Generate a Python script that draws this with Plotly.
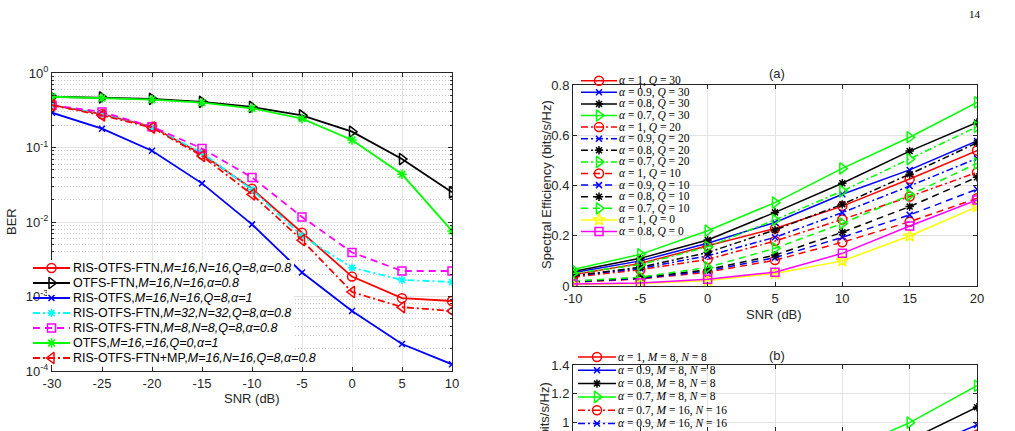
import plotly.graph_objects as go

W, H = 1015, 431

# ---------------- Left chart data (BER) ----------------
snr_ber = [-30, -25, -20, -15, -10, -5, 0, 5, 10]
snr_ber_labels = ["-30", "-25", "-20", "-15", "-10", "-5", "0", "5", "10"]
ber_ris_ftn_16 = [0.37, 0.28, 0.19, 0.081, 0.028, 0.0072, 0.00185, 0.00095, 0.00087]
ber_otfs_ftn = [0.48, 0.47, 0.45, 0.41, 0.35, 0.27, 0.163, 0.070, 0.025]
ber_ris_otfs = [0.293, 0.179, 0.0906, 0.033, 0.0093, 0.0021, 0.00064, 0.00023, 0.000123]
ber_ris_ftn_32 = [0.37, 0.28, 0.185, 0.085, 0.027, 0.0065, 0.00244, 0.00167, 0.00157]
ber_ris_ftn_8 = [0.37, 0.30, 0.19, 0.097, 0.0397, 0.0117, 0.0039, 0.0022, 0.0022]
ber_otfs = [0.48, 0.46, 0.44, 0.40, 0.336, 0.244, 0.126, 0.0437, 0.0076]
ber_ris_ftn_mp = [0.37, 0.27, 0.185, 0.077, 0.0235, 0.0057, 0.00115, 0.00072, 0.00064]
ber_names = [
    "RIS-OTFS-FTN,<i>M=16,N=16,Q=8,α=0.8</i>",
    "OTFS-FTN,<i>M=16,N=16,α=0.8</i>",
    "RIS-OTFS,<i>M=16,N=16,Q=8,α=1</i>",
    "RIS-OTFS-FTN,<i>M=32,N=32,Q=8,α=0.8</i>",
    "RIS-OTFS-FTN,<i>M=8,N=8,Q=8,α=0.8</i>",
    "OTFS,<i>M=16,=16,Q=0,α=1</i>",
    "RIS-OTFS-FTN+MP,<i>M=16,N=16,Q=8,α=0.8</i>",
]
ber_tick_vals = [1e-4, 1e-3, 1e-2, 1e-1, 1]
ber_tick_text = ["10<sup>-4</sup>", "10<sup>-3</sup>", "10<sup>-2</sup>", "10<sup>-1</sup>", "10<sup>0</sup>"]

# ---------------- Right chart (a) data ----------------
snr_se = [-10, -5, 0, 5, 10, 15, 20]
snr_se_labels = ["-10", "-5", "0", "5", "10", "15", "20"]
se_a1_q30 = [0.045, 0.09, 0.16, 0.229, 0.318, 0.426, 0.539]
se_a09_q30 = [0.053, 0.10, 0.17, 0.253, 0.365, 0.462, 0.577]
se_a08_q30 = [0.058, 0.11, 0.183, 0.293, 0.409, 0.537, 0.651]
se_a07_q30 = [0.066, 0.126, 0.22, 0.332, 0.468, 0.592, 0.731]
se_a1_q20 = [0.035, 0.065, 0.106, 0.179, 0.265, 0.356, 0.452]
se_a09_q20 = [0.04, 0.07, 0.12, 0.194, 0.292, 0.398, 0.508]
se_a08_q20 = [0.04, 0.075, 0.133, 0.223, 0.325, 0.445, 0.57]
se_a07_q20 = [0.05, 0.085, 0.156, 0.263, 0.378, 0.505, 0.634]
se_a1_q10 = [0.015, 0.028, 0.055, 0.103, 0.174, 0.256, 0.349]
se_a09_q10 = [0.017, 0.03, 0.06, 0.113, 0.194, 0.283, 0.385]
se_a08_q10 = [0.018, 0.033, 0.065, 0.123, 0.214, 0.316, 0.433]
se_a07_q10 = [0.02, 0.035, 0.074, 0.15, 0.249, 0.362, 0.488]
se_a1_q0 = [0.006, 0.01, 0.022, 0.05, 0.1, 0.199, 0.316]
se_a08_q0 = [0.008, 0.012, 0.027, 0.055, 0.13, 0.239, 0.342]
se_a_names = [
    "<i>α</i> = 1, <i>Q</i> = 30", "<i>α</i> = 0.9, <i>Q</i> = 30",
    "<i>α</i> = 0.8, <i>Q</i> = 30", "<i>α</i> = 0.7, <i>Q</i> = 30",
    "<i>α</i> = 1, <i>Q</i> = 20", "<i>α</i> = 0.9, <i>Q</i> = 20",
    "<i>α</i> = 0.8, <i>Q</i> = 20", "<i>α</i> = 0.7, <i>Q</i> = 20",
    "<i>α</i> = 1, <i>Q</i> = 10", "<i>α</i> = 0.9, <i>Q</i> = 10",
    "<i>α</i> = 0.8, <i>Q</i> = 10", "<i>α</i> = 0.7, <i>Q</i> = 10",
    "<i>α</i> = 1, <i>Q</i> = 0", "<i>α</i> = 0.8, <i>Q</i> = 0",
]
se_a_ticks = [0, 0.2, 0.4, 0.6, 0.8]
se_a_ticktext = ["0", "0.2", "0.4", "0.6", "0.8"]

# ---------------- Right chart (b) data ----------------
se_b_a1_m8 = [0.077, 0.153, 0.272, 0.39, 0.541, 0.724, 0.916]
se_b_a09_m8 = [0.09, 0.17, 0.289, 0.43, 0.62, 0.785, 0.984]
se_b_a08_m8 = [0.099, 0.187, 0.311, 0.498, 0.695, 0.88, 1.107]
se_b_a07_m8 = [0.112, 0.214, 0.374, 0.564, 0.796, 1.0, 1.256]
se_b_a07_m16 = [0.085, 0.145, 0.265, 0.447, 0.643, 0.75, 0.9]
se_b_a09_m16 = [0.068, 0.119, 0.204, 0.33, 0.496, 0.63, 0.8]
se_b_names = [
    "<i>α</i> = 1, <i>M</i> = 8, <i>N</i> = 8",
    "<i>α</i> = 0.9, <i>M</i> = 8, <i>N</i> = 8",
    "<i>α</i> = 0.8, <i>M</i> = 8, <i>N</i> = 8",
    "<i>α</i> = 0.7, <i>M</i> = 8, <i>N</i> = 8",
    "<i>α</i> = 0.7, <i>M</i> = 16, <i>N</i> = 16",
    "<i>α</i> = 0.9, <i>M</i> = 16, <i>N</i> = 16",
]
se_b_ticks = [1, 1.2, 1.4]
se_b_ticktext = ["1", "1.2", "1.4"]

# ---------------- styles ----------------
RED, BLK, BLU, GRN, CYN, MAG, YEL = "#ff0000", "#000000", "#0000ff", "#00ff00", "#00ffff", "#ff00ff", "#ffff00"
SOLID, DASH, DASHDOT = "solid", "7px,5px", "7px,3px,2px,3px"
AXC = "#262626"
SANS = "Liberation Sans, Arial, sans-serif"
SERIF = "Liberation Serif, Times New Roman, serif"

ber_series = [
    (ber_ris_ftn_16, RED, SOLID, "circle-open", 9),
    (ber_otfs_ftn, BLK, SOLID, "triangle-right-open", 10),
    (ber_ris_otfs, BLU, SOLID, "x-thin-open", 6),
    (ber_ris_ftn_32, CYN, DASHDOT, "asterisk-open", 7),
    (ber_ris_ftn_8, MAG, DASH, "square-open", 8),
    (ber_otfs, GRN, SOLID, "asterisk-open", 8),
    (ber_ris_ftn_mp, RED, DASHDOT, "triangle-left-open", 10),
]
se_a_series = [
    (se_a1_q30, RED, SOLID, "circle-open", 9),
    (se_a09_q30, BLU, SOLID, "x-thin-open", 6),
    (se_a08_q30, BLK, SOLID, "asterisk-open", 7),
    (se_a07_q30, GRN, SOLID, "triangle-right-open", 10),
    (se_a1_q20, RED, DASHDOT, "circle-open", 9),
    (se_a09_q20, BLU, DASHDOT, "x-thin-open", 6),
    (se_a08_q20, BLK, DASHDOT, "asterisk-open", 7),
    (se_a07_q20, GRN, DASHDOT, "triangle-right-open", 10),
    (se_a1_q10, RED, DASH, "circle-open", 9),
    (se_a09_q10, BLU, DASH, "x-thin-open", 6),
    (se_a08_q10, BLK, DASH, "asterisk-open", 7),
    (se_a07_q10, GRN, DASH, "triangle-right-open", 10),
    (se_a1_q0, YEL, SOLID, "star-open", 9),
    (se_a08_q0, MAG, SOLID, "square-open", 8),
]
se_b_series = [
    (se_b_a1_m8, RED, SOLID, "circle-open", 9),
    (se_b_a09_m8, BLU, SOLID, "x-thin-open", 6),
    (se_b_a08_m8, BLK, SOLID, "asterisk-open", 7),
    (se_b_a07_m8, GRN, SOLID, "triangle-right-open", 10),
    (se_b_a07_m16, RED, DASHDOT, "circle-open", 9),
    (se_b_a09_m16, BLU, DASHDOT, "x-thin-open", 6),
]

fig = go.Figure()


def marker(color, symbol, size):
    return dict(symbol=symbol, size=size, color=color, line=dict(color=color, width=1.5))


def add_series(xs, series, names, xa, ya, lw):
    for (ys, color, dash, sym, ms), nm in zip(series, names):
        fig.add_trace(go.Scatter(
            x=xs, y=ys, mode="lines+markers", name=nm, showlegend=False,
            line=dict(color=color, width=lw, dash=dash),
            marker=marker(color, sym, ms), xaxis=xa, yaxis=ya, cliponaxis=True))


add_series(snr_ber, ber_series, ber_names, "x", "y", 1.8)
add_series(snr_se, se_a_series, se_a_names, "x2", "y2", 1.5)
add_series(snr_se, se_b_series, se_b_names, "x3", "y3", 1.5)

# ---------------- manual legends on a pixel overlay ----------------
# white box behind the BER legend
fig.add_trace(go.Scatter(x=[47, 294, 294, 47, 47], y=[260, 260, 365, 365, 260],
                         mode="lines", fill="toself", fillcolor="white",
                         line=dict(width=0, color="white"), xaxis="x4", yaxis="y4",
                         showlegend=False, hoverinfo="skip"))


def add_legend(series, names, x0, x1, y0, dy, tx, font, fsize, lw):
    for i, ((ys, color, dash, sym, ms), nm) in enumerate(zip(series, names)):
        yy = y0 + i * dy
        fig.add_trace(go.Scatter(x=[x0, x1], y=[yy, yy], mode="lines",
                                 line=dict(color=color, width=lw, dash=dash),
                                 xaxis="x4", yaxis="y4", showlegend=False, hoverinfo="skip"))
        fig.add_trace(go.Scatter(x=[(x0 + x1) / 2], y=[yy], mode="markers",
                                 marker=marker(color, sym, ms),
                                 xaxis="x4", yaxis="y4", showlegend=False, hoverinfo="skip"))
        fig.add_annotation(x=tx, y=yy, xref="x4", yref="y4", text=nm, showarrow=False,
                           xanchor="left", yanchor="middle",
                           font=dict(family=font, size=fsize, color="#000000"))


add_legend(ber_series, ber_names, 33, 70, 268, 15, 71, SANS, 12.5, 1.8)
add_legend(se_a_series, se_a_names, 581, 617, 80.7, 11.6, 617, SERIF, 11.5, 1.5)
add_legend(se_b_series, se_b_names, 578, 616, 357, 13.3, 616, SERIF, 11.5, 1.5)

# ---------------- axes ----------------
def dom_x(a, b):
    return [a / W, b / W]


def dom_y(top, bottom):
    return [max(0, 1 - bottom / H), 1 - top / H]


common = dict(showline=True, linecolor=AXC, linewidth=1, mirror="ticks", ticks="inside",
              ticklen=4, tickcolor=AXC, showgrid=True, gridcolor="#e3e3e3", gridwidth=1,
              zeroline=False, automargin=False,
              tickfont=dict(family=SANS, size=13, color=AXC))

minor_vals = [m * 10 ** e for e in range(-4, 0) for m in range(2, 10)]

fig.update_layout(
    template="none",
    xaxis=dict(domain=dom_x(52, 452), range=[-30, 10], tickvals=snr_ber, ticktext=snr_ber_labels,
               anchor="y", **common),
    yaxis=dict(domain=dom_y(73, 371), type="log", range=[-4, 0], tickvals=ber_tick_vals,
               ticktext=ber_tick_text, anchor="x",
               minor=dict(tickvals=minor_vals, ticks="inside", ticklen=2, tickcolor=AXC,
                          showgrid=True, gridcolor="#cccccc", griddash="1px,2px", gridwidth=1),
               **common),
    xaxis2=dict(domain=dom_x(573, 977), range=[-10, 20], tickvals=snr_se, ticktext=snr_se_labels,
                anchor="y2", **common),
    yaxis2=dict(domain=dom_y(85, 286), range=[0, 0.8], tickvals=se_a_ticks, ticktext=se_a_ticktext,
                anchor="x2", **common),
    xaxis3=dict(domain=dom_x(573, 977), range=[-10, 20], tickvals=snr_se, anchor="y3",
                showticklabels=False, **common),
    yaxis3=dict(domain=dom_y(365, 431), range=[0.942, 1.4], tickvals=se_b_ticks,
                ticktext=se_b_ticktext, anchor="x3", **common),
    xaxis4=dict(domain=[0, 1], range=[0, W], visible=False, fixedrange=True, anchor="y4"),
    yaxis4=dict(domain=[0, 1], range=[H, 0], visible=False, fixedrange=True, anchor="x4"),
    width=W, height=H, margin=dict(l=0, r=0, t=0, b=0, pad=0),
    paper_bgcolor="white", plot_bgcolor="rgba(0,0,0,0)", showlegend=False,
)


def label(px, py, text, angle=0, font=SANS, size=13, color=AXC):
    fig.add_annotation(x=px / W, y=1 - py / H, xref="paper", yref="paper", text=text,
                       textangle=angle, showarrow=False, xanchor="center", yanchor="middle",
                       font=dict(family=font, size=size, color=color))


label(252, 398, "SNR (dB)")
label(12, 222, "BER", angle=-90)
label(774, 314, "SNR (dB)")
label(546, 185, "Spectral Efficiency (bits/s/Hz)", angle=-90)
label(544, 467, "Spectral Efficiency (bits/s/Hz)", angle=-90)
label(777, 73, "(a)")
label(777, 355, "(b)")
label(975, 14, "14", font=SERIF, size=11, color="#000000")

fig.write_html("out.html")
